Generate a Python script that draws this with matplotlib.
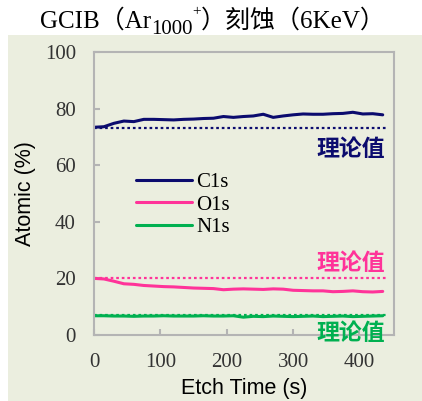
import matplotlib
matplotlib.use("Agg")
import matplotlib.pyplot as plt
from matplotlib.patches import Rectangle

# etch time (s) and atomic concentrations (%)
etch_time = [0, 15, 30, 45, 60, 75, 90, 105, 120, 135, 150, 165, 180, 195, 210,
             225, 240, 255, 270, 285, 300, 315, 330, 345, 360, 375, 390, 405, 420, 435]
c1s = [73.4, 73.6, 74.8, 75.6, 75.4, 76.2, 76.2, 76.1, 76.0, 76.2, 76.3, 76.5, 76.6, 77.2, 76.9,
       77.2, 77.4, 78.0, 76.9, 77.4, 77.8, 78.1, 78.0, 78.0, 78.2, 78.3, 78.7, 78.1, 78.2, 77.8]
o1s = [20.0, 19.8, 19.0, 18.1, 17.9, 17.5, 17.3, 17.1, 17.0, 16.8, 16.6, 16.5, 16.4, 16.0, 16.2,
       16.3, 16.2, 16.1, 16.3, 16.2, 15.8, 15.7, 15.6, 15.6, 15.3, 15.4, 15.6, 15.3, 15.2, 15.4]
n1s = [6.8, 6.8, 6.7, 6.7, 6.6, 6.7, 6.7, 6.8, 6.7, 6.7, 6.7, 6.8, 6.7, 6.7, 6.8,
       6.3, 6.6, 6.5, 6.7, 6.6, 6.5, 6.6, 6.7, 6.5, 6.6, 6.7, 6.5, 6.6, 6.7, 6.8]

# theoretical composition
theory = {"C1s": 73.3, "O1s": 20.0, "N1s": 7.0}
theory_span = [0, 443]

series_names = ["C1s", "O1s", "N1s"]
series_colors = ["#0B0B6E", "#FF3399", "#00B050"]
theory_label = "理论值"
theory_label_y = [65.4, 25.4, 0.7]

bg = "#EBEEDF"
spine_c = "#B4B4B4"
serif = ["Liberation Serif", "Noto Sans CJK SC"]
cjk = ["Noto Sans CJK SC", "DejaVu Sans"]

fig = plt.figure(figsize=(4.22, 4.01), dpi=100)
fig.patches.append(Rectangle((8 / 422, 0), 1 - 8 / 422, 1 - 35 / 401,
                             transform=fig.transFigure, facecolor=bg,
                             edgecolor="none", zorder=-10))
ax = fig.add_axes([94 / 422, 66 / 401, 300 / 422, 283 / 401])
ax.set_facecolor(bg)

for name, vals, col in zip(series_names, [c1s, o1s, n1s], series_colors):
    ax.plot(etch_time, vals, color=col, lw=2.2, label=name, solid_capstyle="round")
for (name, val), col, ly in zip(theory.items(), series_colors, theory_label_y):
    ax.plot(theory_span, [val, val], color=col, lw=1.6, dashes=(1.2, 1.3))
    ax.text(439, ly, theory_label, color=col, fontsize=16.5, fontweight="bold",
            family=cjk, ha="right", va="center", zorder=10, clip_on=False)

ax.set_xlim(0, 452)
ax.set_ylim(0, 100)
ax.set_xticks([0, 100, 200, 300, 400])
ax.set_yticks([0, 20, 40, 60, 80, 100])
ax.tick_params(direction="in", length=4.5, width=1.5, color=spine_c, pad=13,
               labelsize=15, labelcolor="#333333")
for lab in ax.get_xticklabels() + ax.get_yticklabels():
    lab.set_family(serif)
for sp in ax.spines.values():
    sp.set_color(spine_c)
    sp.set_linewidth(1.5)

ax.set_xlabel("Etch Time (s)", fontsize=15.5, family="Liberation Sans", labelpad=4)
ax.set_ylabel("Atomic (%)", fontsize=15.5, family="Liberation Sans", labelpad=6)

ax.legend(loc="upper left", bbox_to_anchor=(0.14, 0.575), frameon=False,
          borderpad=0, borderaxespad=0, handlelength=2.7, handletextpad=0.2,
          labelspacing=0.15, prop={"family": serif, "size": 15})

# title with subscript / superscript pieces
t1 = fig.text(40 / 422, 1 - 33 / 401, "GCIB（Ar", fontsize=18, family=serif,
              ha="left", va="bottom", zorder=20)
sub = ax.annotate("1000", xy=(1, 0), xycoords=t1, xytext=(0, -4),
                  textcoords="offset points", fontsize=15, family=serif,
                  ha="left", va="bottom", annotation_clip=False, zorder=20)
sup = ax.annotate("+", xy=(1, 1), xycoords=sub, xytext=(0, 1),
                  textcoords="offset points", fontsize=11, family=serif,
                  ha="left", va="bottom", annotation_clip=False, zorder=20)
ax.annotate("）刻蚀（6KeV）", xy=(1, 0), xycoords=(sup, t1), fontsize=18,
            family=serif, ha="left", va="bottom", annotation_clip=False, zorder=20)

fig.savefig("out.png", dpi=100)
